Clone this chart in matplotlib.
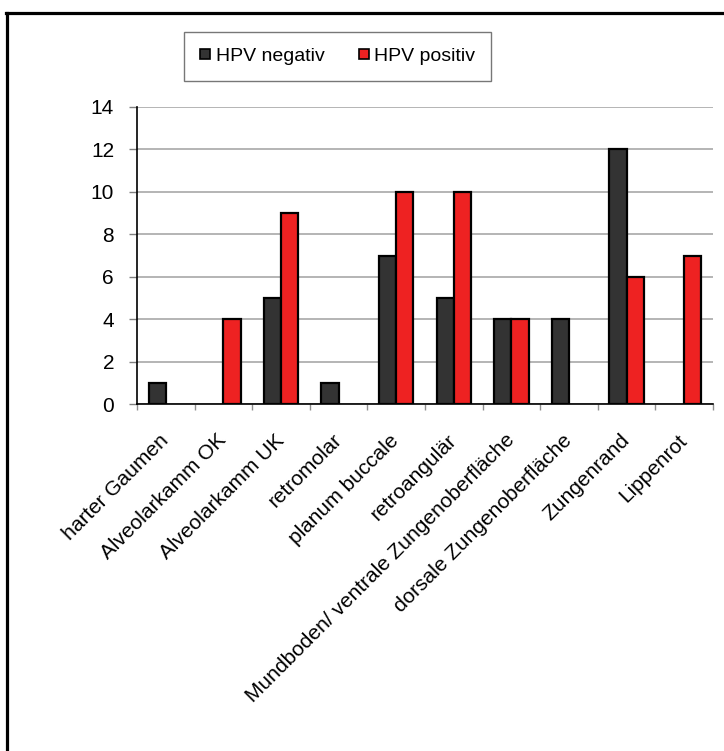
import matplotlib
matplotlib.use("Agg")
import matplotlib.pyplot as plt
import numpy as np
from matplotlib.lines import Line2D

plt.rcParams['font.family'] = ['Liberation Sans', 'DejaVu Sans']

# Tumour localisation by HPV status
categories = [
    "harter Gaumen",
    "Alveolarkamm OK",
    "Alveolarkamm UK",
    "retromolar",
    "planum buccale",
    "retroangulär",
    "Mundboden/ ventrale Zungenoberfläche",
    "dorsale Zungenoberfläche",
    "Zungenrand",
    "Lippenrot",
]
hpv_negativ = [1, 0, 5, 1, 7, 5, 4, 4, 12, 0]
hpv_positiv = [0, 4, 9, 0, 10, 10, 4, 0, 6, 7]
series_labels = ["HPV negativ", "HPV positiv"]
yticks = [0, 2, 4, 6, 8, 10, 12, 14]

W, H = 724, 751
fig = plt.figure(figsize=(W / 100, H / 100), dpi=100)
fig.patch.set_facecolor("white")

ax = fig.add_axes([137 / W, 1 - 404 / H, (713 - 137) / W, (404 - 107) / H])

x = np.arange(len(categories))
bw = 0.3
c_neg = "#333333"
c_pos = "#EE2222"
neg = np.array(hpv_negativ)
pos = np.array(hpv_positiv)
# empty bars get no outline
ax.bar(x - bw / 2, neg, bw, color=c_neg, edgecolor="black",
       linewidth=np.where(neg > 0, 1.6, 0.0), zorder=3)
ax.bar(x + bw / 2, pos, bw, color=c_pos, edgecolor="black",
       linewidth=np.where(pos > 0, 1.6, 0.0), zorder=3)

ax.set_xlim(-0.5, len(categories) - 0.5)
ax.set_ylim(0, 14)
ax.set_yticks(yticks)
ax.set_yticklabels([str(v) for v in yticks], fontsize=15)
ax.yaxis.grid(True, color="#a0a0a0", linewidth=1.1, zorder=0)
ax.set_axisbelow(True)

ax.tick_params(axis="y", direction="out", length=5.5, width=1.0, color="#808080", pad=11)

ax.set_xticks(x)
ax.set_xticklabels(categories, fontsize=15, rotation=45, ha="right",
                   va="center", rotation_mode="anchor")
ax.tick_params(axis="x", which="major", length=0, pad=24)
ax.set_xticks(np.arange(-0.5, len(categories) + 0.5, 1.0), minor=True)
ax.tick_params(axis="x", which="minor", direction="out", length=4.5, width=1.0, color="#909090")

for s in ["top", "right"]:
    ax.spines[s].set_visible(False)
ax.spines["left"].set_color("black")
ax.spines["bottom"].set_color("black")
ax.spines["left"].set_linewidth(1.2)
ax.spines["bottom"].set_linewidth(1.2)

handles = [
    Line2D([], [], linestyle="none", marker="s", markersize=7.8,
           markerfacecolor=c_neg, markeredgecolor="black", markeredgewidth=1.2),
    Line2D([], [], linestyle="none", marker="s", markersize=7.8,
           markerfacecolor=c_pos, markeredgecolor="black", markeredgewidth=1.2),
]
leg = fig.legend(handles, series_labels, ncol=2, loc="center",
                 bbox_to_anchor=((182 + 493) / 2 / W, 1 - 56.5 / H),
                 fontsize=14, frameon=True, fancybox=False, shadow=False,
                 handlelength=0.6, handletextpad=0.25, columnspacing=1.7,
                 borderpad=0.8, borderaxespad=0)
leg.get_frame().set_edgecolor("#555555")
leg.get_frame().set_linewidth(1.0)

# outer chart frame
fig.add_artist(Line2D([7 / W, 7 / W], [1 - 12.5 / H, -0.05], transform=fig.transFigure,
                      color="black", linewidth=2.3, clip_on=False))
fig.add_artist(Line2D([6 / W, 1.05], [1 - 12.5 / H, 1 - 12.5 / H], transform=fig.transFigure,
                      color="black", linewidth=2.3, clip_on=False))

fig.savefig("out.png", dpi=100, facecolor="white")
